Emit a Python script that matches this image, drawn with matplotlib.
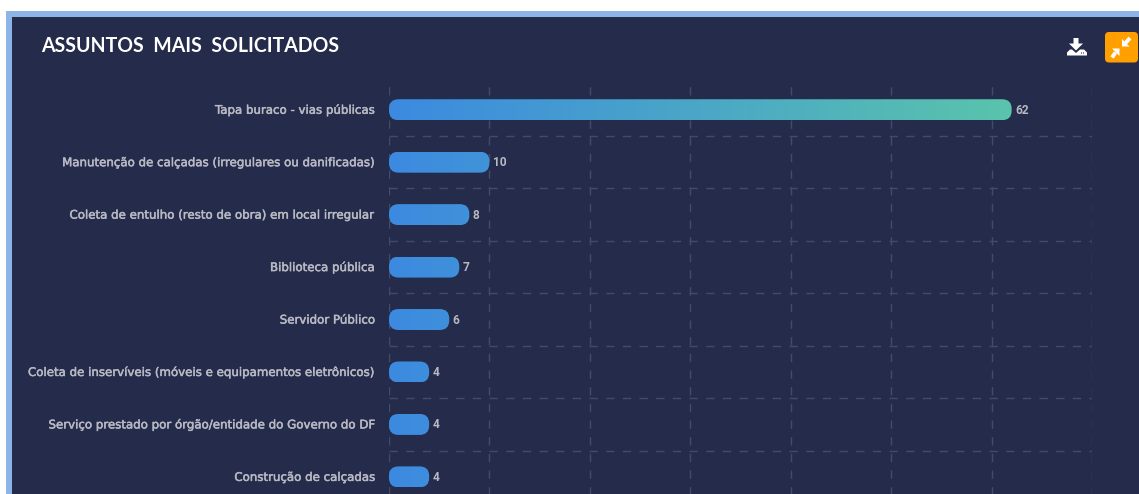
import matplotlib
matplotlib.use('Agg')
import matplotlib.patheffects as path_effects
import matplotlib.pyplot as plt
import numpy as np
from matplotlib.patches import FancyBboxPatch, Polygon, Rectangle
from matplotlib.transforms import ScaledTranslation

# Subjects and request counts
subjects = ['Tapa buraco - vias públicas',
            'Manutenção de calçadas (irregulares ou danificadas)',
            'Coleta de entulho (resto de obra) em local irregular',
            'Biblioteca pública',
            'Servidor Público',
            'Coleta de inservíveis (móveis e equipamentos eletrônicos)',
            'Serviço prestado por órgão/entidade do Governo do DF',
            'Construção de calçadas']
requests = [62, 10, 8, 7, 6, 4, 4, 4]
x_ticks = [0, 10, 20, 30, 40, 50, 60, 70]

panel_color = '#252b4b'
border_color = '#8db4e6'
grid_color = '#454a68'
label_color = '#b9b9c3'
blue = np.array([60, 138, 224]) / 255
green = np.array([90, 196, 172]) / 255

W, H = 1139, 494
fig = plt.figure(figsize=(W / 100, H / 100), dpi=100, facecolor='white')

# Panel frame and header, laid out in pixels
bg = fig.add_axes([0, 0, 1, 1])
bg.set_xlim(0, W)
bg.set_ylim(H, 0)
bg.axis('off')
bg.add_patch(Rectangle((6, 11), W, H, color=border_color, lw=0))
bg.add_patch(Rectangle((12, 17), W, H, color=panel_color, lw=0))
bg.text(41, 45.5, 'ASSUNTOS  MAIS  SOLICITADOS', color='white', fontsize=14.05,
        family='Lato', weight='bold', va='center', ha='left')

# Download icon
bg.add_patch(Polygon([(1073.5, 38), (1078.5, 38), (1078.5, 43.5), (1083, 43.5), (1076, 50.5),
                      (1069, 43.5), (1073.5, 43.5)], color='white', lw=0))
bg.add_patch(Polygon([(1067, 55.5), (1067, 52.5), (1070, 49.5), (1072, 49.5), (1076, 53),
                      (1080, 49.5), (1084, 49.5), (1087, 52.5), (1087, 55.5)], color='white', lw=0))
bg.add_patch(Rectangle((1080.5, 52.5), 1.2, 1.2, color='#8a8ea0', lw=0))
bg.add_patch(Rectangle((1083, 52.5), 1.2, 1.2, color='#8a8ea0', lw=0))

# Compress button with two arrows pointing at its centre
bg.add_patch(FancyBboxPatch((1107, 34), 29, 26.5, boxstyle='round,pad=2,rounding_size=4',
                            color='#ffa000', lw=0))
bg.add_patch(Polygon([(1119.5, 48.5), (1112, 48.5), (1119.5, 56)], color='white', lw=0))
bg.plot([1115.5, 1112], [52.5, 57.5], color='white', lw=2.8, solid_capstyle='butt')
bg.add_patch(Polygon([(1122, 46.5), (1122, 39), (1129.5, 46.5)], color='white', lw=0))
bg.plot([1125.5, 1130], [43, 38], color='white', lw=2.8, solid_capstyle='butt')

# Chart area runs past the bottom edge, so the last row band is cut off
top, row_h = 83.5, 52.45
bottom = top + row_h * len(subjects)
ax = fig.add_axes([389 / W, 1 - bottom / H, (1092 - 389) / W, row_h * len(subjects) / H])
ax.patch.set_alpha(0)
ax.set_xlim(0, 70)
ax.set_ylim(len(subjects) - 0.5, -0.5)
ax.set_xticks(x_ticks)
ax.set_yticks(np.arange(len(subjects)), subjects)
ax.set_yticks(np.arange(1, len(subjects)) - 0.5, minor=True)
ax.tick_params(axis='x', length=0, labelbottom=False)
ax.tick_params(axis='y', which='both', length=0, pad=10)
# Category labels sit one pixel above the bar centre
label_shift = ScaledTranslation(0, 1 / 100, fig.dpi_scale_trans)
for tick in ax.get_yticklabels():
    tick.set(color=label_color, fontsize=8.5, family='DejaVu Sans', va='center_baseline',
             path_effects=[path_effects.withStroke(linewidth=0.35, foreground=label_color)])
    tick.set_transform(tick.get_transform() + label_shift)
for spine in ax.spines.values():
    spine.set_visible(False)
ax.grid(axis='x', which='major', color=grid_color, lw=1, ls=(0, (6, 6)))
ax.grid(axis='y', which='minor', color=grid_color, lw=1, ls=(0, (6, 6)))
ax.set_axisbelow(True)

# Rounded bars share one blue to green ramp, set along the longest bar
px_per_x = (1092 - 389) / 70
aspect = px_per_x / row_h
bar_h = 0.4
longest = max(requests)
t = np.linspace(0, 1, 256)[None, :, None]
ramp = blue[None, None, :] * (1 - t) + green[None, None, :] * t
for i, value in enumerate(requests):
    box = FancyBboxPatch((0, i - bar_h / 2), value, bar_h,
                         boxstyle='round,pad=0,rounding_size=0.95',
                         mutation_aspect=aspect, facecolor='none', edgecolor='none', zorder=3)
    ax.add_patch(box)
    im = ax.imshow(ramp, extent=(0, longest, i + bar_h / 2, i - bar_h / 2),
                   aspect='auto', zorder=4)
    im.set_clip_path(box)
    ax.text(value + 0.35, i + 0.01, str(value), color=label_color, fontsize=8.6,
            family='Roboto', weight='bold', va='center', ha='left', zorder=5)
ax.set_xlim(0, 70)
ax.set_ylim(len(subjects) - 0.5, -0.5)

fig.savefig('out.png', dpi=100, facecolor='white')
